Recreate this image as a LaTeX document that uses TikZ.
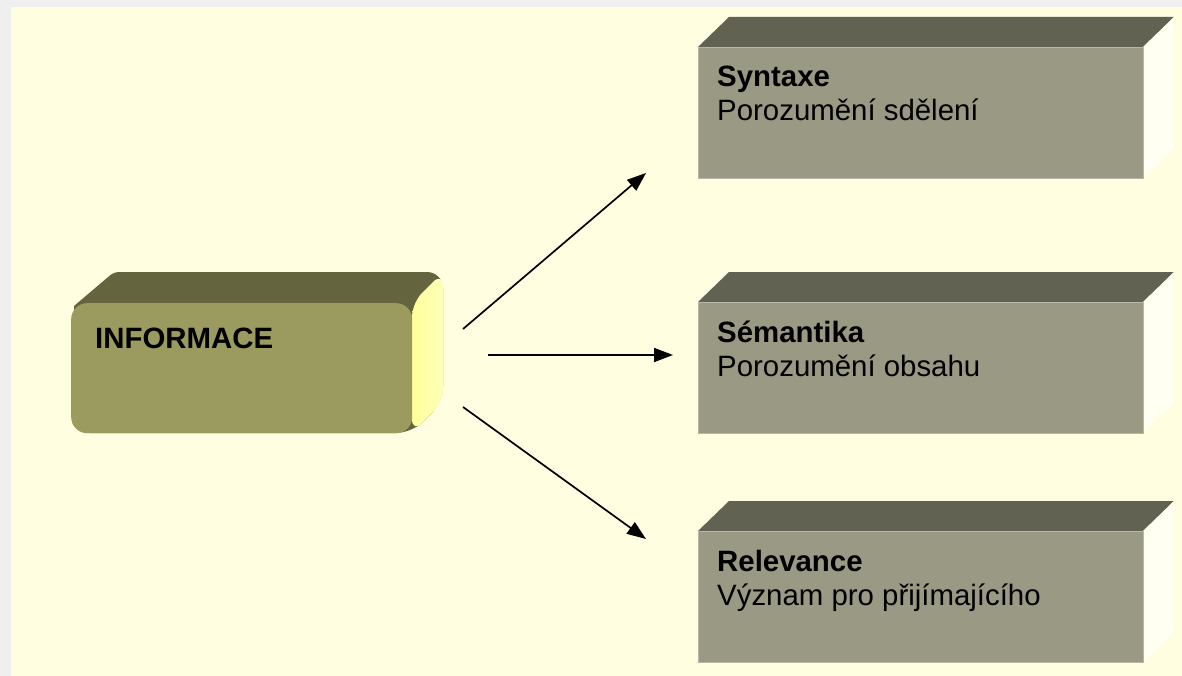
\documentclass[tikz,border=0pt]{standalone}
\usepackage{fontspec}
\setmainfont{Liberation Sans}
\usetikzlibrary{arrows.meta}
\definecolor{pagegrey}{HTML}{EFEFEF}
\definecolor{cream}{HTML}{FFFEE0}
\definecolor{infofront}{HTML}{9C9B5F}
\definecolor{infotop}{HTML}{64643F}
\definecolor{infoside}{HTML}{FFFF9C}
\definecolor{infosidelight}{HTML}{FFFFB8}
\definecolor{slabfront}{HTML}{9A9983}
\definecolor{slabtop}{HTML}{626253}
\definecolor{slabside}{HTML}{FFFFF2}
\definecolor{slabrim}{HTML}{B9B8A6}
\tikzset{
  titletext/.style={font=\fontsize{29.4}{34}\selectfont\bfseries, inner sep=0pt, anchor=base west},
  bodytext/.style={font=\fontsize{29.4}{34}\selectfont, inner sep=0pt, anchor=base west},
  slabface/.style={fill=slabfront, draw=slabrim, line width=1.2pt, anchor=north west,
    minimum width=445pt, minimum height=131pt, inner sep=0pt},
  infoface/.style={fill=infofront, rounded corners=16pt, anchor=north west,
    minimum width=341pt, minimum height=130pt, inner sep=0pt},
  arr/.style={line width=1.7pt, -{Triangle[length=19pt,width=14pt]}},
}
\begin{document}
\begin{tikzpicture}[x=1pt,y=-1pt]
\useasboundingbox (0,0) rectangle (1182,676);
\fill[pagegrey] (0,0) rectangle (1182,676);
\fill[cream] (11,7) rectangle (1182,676);

% left block: rounded slab with a bevelled top face and a lit side face
\fill[infotop] (74,306) [rounded corners=5pt] -- (114,272) [rounded corners=16pt] -- (443,272)
  -- (443,402) -- (412,433) -- (74,433) [sharp corners] -- cycle;
\shade[left color=infoside, right color=infosidelight, rounded corners=14pt]
  (412,303) -- (443,272) -- (443,402) -- (412,433) -- cycle;
\node[infoface] (info) at (71,303) {};
\node[titletext] (infot) at (95,348) {INFORMACE};

% right blocks: top face, side face, front face
\foreach \t in {47,302,531}{
  \fill[slabtop] (698,\t) -- (729,\t-30) -- (1174,\t-30) -- (1143,\t) -- cycle;
  \fill[slabside] (1143,\t) -- (1174,\t-30) -- (1174,\t+101) -- (1143,\t+131) -- cycle;
}
\node[slabface] (syn) at (698,47) {};
\node[slabface] (sem) at (698,302) {};
\node[slabface] (rel) at (698,531) {};

\node[titletext] (synt) at (717,87) {Syntaxe};
\node[bodytext] (synb) at (717,121) {Porozumění sdělení};
\node[titletext] (semt) at (717,342) {Sémantika};
\node[bodytext] (semb) at (717,376) {Porozumění obsahu};
\node[titletext] (relt) at (717,571) {Relevance};
\node[bodytext] (relb) at (717,605) {Význam pro přijímajícího};

% connectors
\coordinate (a1s) at (463,329);
\coordinate (a1e) at (646,173);
\coordinate (a2s) at (488,355);
\coordinate (a2e) at (673,355);
\coordinate (a3s) at (463,407);
\coordinate (a3e) at (646,539);
\draw[arr] (a1s) -- (a1e);
\draw[arr] (a2s) -- (a2e);
\draw[arr] (a3s) -- (a3e);
\end{tikzpicture}
\end{document}
